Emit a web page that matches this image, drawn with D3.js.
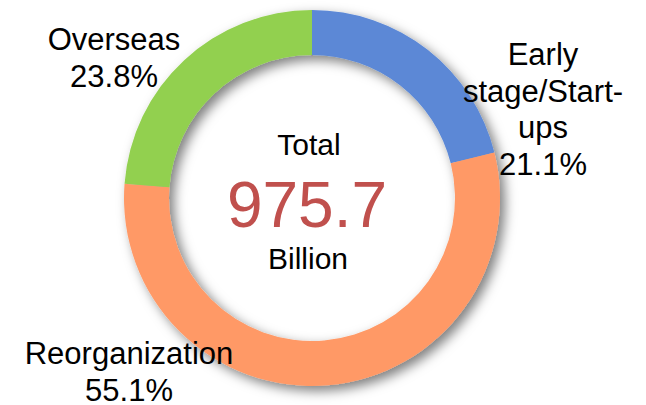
<!DOCTYPE html>
<html>
<head>
<meta charset="utf-8">
<script src="https://cdn.jsdelivr.net/npm/d3@7"></script>
<style>
  html, body { margin: 0; padding: 0; background: #fff; }
  svg { display: block; font-family: "Liberation Sans", Arial, sans-serif; }
</style>
</head>
<body>
<svg id="chart" width="646" height="405"></svg>
<script>
// ---- data ----
const categories = ["Early stage/Start-ups", "Reorganization", "Overseas"];
const labelLines = [["Early", "stage/Start-", "ups"], ["Reorganization"], ["Overseas"]];
const shares = [21.1, 55.1, 23.8];
const colors = ["#5B88D6", "#FF9966", "#92D050"];
const totalValue = "975.7";
const totalTitle = "Total";
const totalUnit = "Billion";

// ---- layout ----
const W = 646, H = 405;
const cx = 312, cy = 198;
const rOuter = 188, rInner = 143;
const labelPos = [
  { x: 543, y: 65 },
  { x: 129, y: 364 },
  { x: 114, y: 50 }
];
const lineH = 36.5;
const fontSize = 31;

const svg = d3.select("#chart");

const defs = svg.append("defs");
const f = defs.append("filter").attr("id", "shadow")
  .attr("x", "-20%").attr("y", "-20%").attr("width", "140%").attr("height", "140%");
f.append("feDropShadow")
  .attr("dx", 5).attr("dy", 5).attr("stdDeviation", 6)
  .attr("flood-color", "#000").attr("flood-opacity", 0.5);

const data = categories.map((c, i) => ({ name: c, value: shares[i], color: colors[i], lines: labelLines[i], pos: labelPos[i] }));

const pie = d3.pie().sort(null).value(d => d.value);
const arc = d3.arc().innerRadius(rInner).outerRadius(rOuter);

const g = svg.append("g").attr("transform", `translate(${cx},${cy})`);
g.append("g").attr("filter", "url(#shadow)")
  .selectAll("path")
  .data(pie(data))
  .join("path")
  .attr("d", arc)
  .attr("fill", d => d.data.color);

// labels
const lbl = svg.append("g").attr("font-size", fontSize).attr("fill", "#000").attr("text-anchor", "middle");
data.forEach(d => {
  const t = lbl.append("text").attr("x", d.pos.x).attr("y", d.pos.y);
  const lines = d.lines.concat([d3.format(".1f")(d.value) + "%"]);
  lines.forEach((ln, i) => {
    t.append("tspan").attr("x", d.pos.x).attr("y", d.pos.y + i * lineH).text(ln);
  });
});

// center text
const ct = svg.append("g").attr("text-anchor", "middle");
ct.append("text").attr("x", 309).attr("y", 155).attr("font-size", 30).attr("fill", "#000").text(totalTitle);
ct.append("text").attr("x", 307).attr("y", 227).attr("font-size", 64).attr("fill", "#C0504D").text(totalValue);
ct.append("text").attr("x", 308).attr("y", 269).attr("font-size", 30).attr("fill", "#000").text(totalUnit);
</script>
</body>
</html>
